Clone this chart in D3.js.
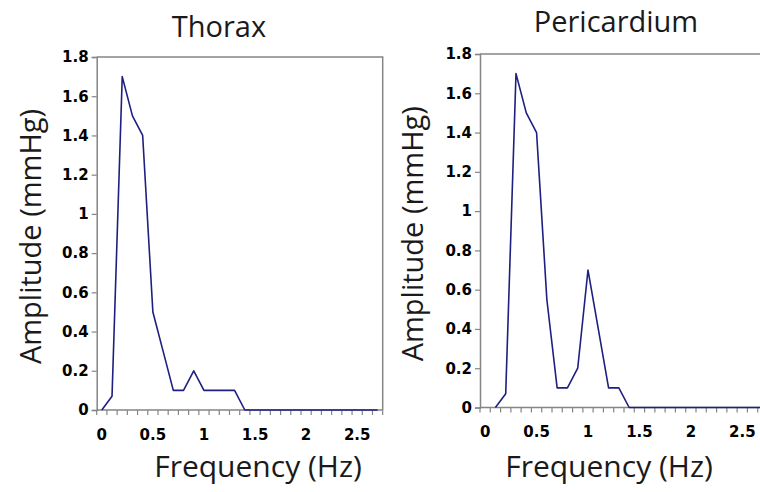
<!DOCTYPE html>
<html>
<head>
<meta charset="utf-8">
<script src="https://cdn.jsdelivr.net/npm/d3@7"></script>
<style>
  body { margin: 0; background: #fff; }
</style>
</head>
<body>
<svg id="chart" width="760" height="492"></svg>
<script>
// --- data ---
const freq = [0, 0.1, 0.2, 0.3, 0.4, 0.5, 0.6, 0.7, 0.8, 0.9,
              1, 1.1, 1.2, 1.3, 1.4, 1.5, 1.6, 1.7, 1.8, 1.9,
              2, 2.1, 2.2, 2.3, 2.4, 2.5, 2.6, 2.7];
const xLabels = [0, 0.5, 1, 1.5, 2, 2.5];
const yTicks = [0, 0.2, 0.4, 0.6, 0.8, 1, 1.2, 1.4, 1.6, 1.8];

const thorax = [0, 0.07, 1.7, 1.5, 1.4, 0.5, 0.3, 0.1, 0.1, 0.2,
                0.1, 0.1, 0.1, 0.1, 0, 0, 0, 0, 0, 0,
                0, 0, 0, 0, 0, 0, 0, 0];
const pericardium = [null, 0, 0.07, 1.7, 1.5, 1.4, 0.55, 0.1, 0.1, 0.2,
                     0.7, 0.4, 0.1, 0.1, 0, 0, 0, 0, 0, 0,
                     0, 0, 0, 0, 0, 0, 0, 0];

const titles = ["Thorax", "Pericardium"];

// --- panel frames (pixel layout) ---
const panels = [
  {values: thorax, left: 96.7, right: 382.7, top: 57, bottom: 410,
   titleX: 219, titleY: 37, yLabX: 41, xLabX: 258},
  {values: pericardium, left: 480, right: 768, top: 54, bottom: 407.5,
   titleX: 616, titleY: 32, yLabX: 423, xLabX: 609}
];

const svg = d3.select("#chart");
const axisColor = "#858585";
const lineColor = "#1f1f80";

panels.forEach((p, i) => {
  const x = d3.scaleBand()
              .domain(freq)
              .range([p.left, p.right]);
  const y = d3.scaleLinear()
              .domain([0, 1.8])
              .range([p.bottom, p.top]);

  const g = svg.append("g");

  // plot area border (top + right)
  g.append("path")
   .attr("d", `M${p.left},${p.top}H${p.right}V${p.bottom}`)
   .attr("fill", "none")
   .attr("stroke", axisColor)
   .attr("stroke-width", 1.5);

  // --- Y axis ---
  const yAxis = g.append("g")
   .attr("transform", `translate(${p.left},0)`)
   .call(d3.axisLeft(y).tickValues(yTicks).tickSize(5).tickPadding(3)
           .tickFormat(d3.format("~g")));
  yAxis.select(".domain").attr("stroke", axisColor).attr("stroke-width", 1.5);
  yAxis.selectAll(".tick line").attr("stroke", axisColor).attr("stroke-width", 1.2);
  yAxis.selectAll("text")
   .style("font-family", "'DejaVu Sans', sans-serif")
   .style("font-weight", "bold")
   .style("font-size", "15px")
   .attr("fill", "#000");

  // --- X axis: line + ticks between categories ---
  g.append("line")
   .attr("x1", p.left).attr("x2", p.right)
   .attr("y1", y(0)).attr("y2", y(0))
   .attr("stroke", axisColor)
   .attr("stroke-width", 1.5);

  const bounds = freq.map(d => x(d)).concat([x.range()[1]]);
  g.selectAll("line.xtick")
   .data(bounds)
   .enter().append("line")
     .attr("class", "xtick")
     .attr("x1", d => d).attr("x2", d => d)
     .attr("y1", y(0)).attr("y2", y(0) + 5)
     .attr("stroke", axisColor)
     .attr("stroke-width", 1.2);

  const xAxis = g.append("g")
   .attr("transform", `translate(0,${p.bottom})`)
   .call(d3.axisBottom(x).tickValues(xLabels).tickSize(0).tickPadding(19)
           .tickFormat(d3.format("~g")));
  xAxis.select(".domain").remove();
  xAxis.selectAll("text")
   .style("font-family", "'DejaVu Sans', sans-serif")
   .style("font-weight", "bold")
   .style("font-size", "15px")
   .attr("fill", "#000");

  // --- data line ---
  const line = d3.line()
    .defined(d => d.v !== null)
    .x(d => x(d.f) + x.bandwidth() / 2)
    .y(d => y(d.v));

  g.append("path")
   .datum(freq.map((f, k) => ({f: f, v: p.values[k]})))
   .attr("d", line)
   .attr("fill", "none")
   .attr("stroke", lineColor)
   .attr("stroke-width", 1.6)
   .attr("stroke-linejoin", "round");

  // --- titles ---
  g.append("text")
   .attr("x", p.titleX).attr("y", p.titleY)
   .attr("text-anchor", "middle")
   .style("font-family", "'Open Sans', sans-serif")
   .style("font-size", "29px")
   .attr("fill", "#1a1a1a")
   .text(titles[i]);

  g.append("text")
   .attr("transform", `translate(${p.yLabX},${(p.top + p.bottom) / 2 + 3}) rotate(-90)`)
   .attr("text-anchor", "middle")
   .style("font-family", "'Open Sans', sans-serif")
   .style("font-size", "29px")
   .attr("fill", "#1a1a1a")
   .text("Amplitude (mmHg)");

  g.append("text")
   .attr("x", p.xLabX).attr("y", 477)
   .attr("text-anchor", "middle")
   .style("font-family", "'Open Sans', sans-serif")
   .style("font-size", "30px")
   .attr("fill", "#1a1a1a")
   .text("Frequency (Hz)");
});
</script>
</body>
</html>
